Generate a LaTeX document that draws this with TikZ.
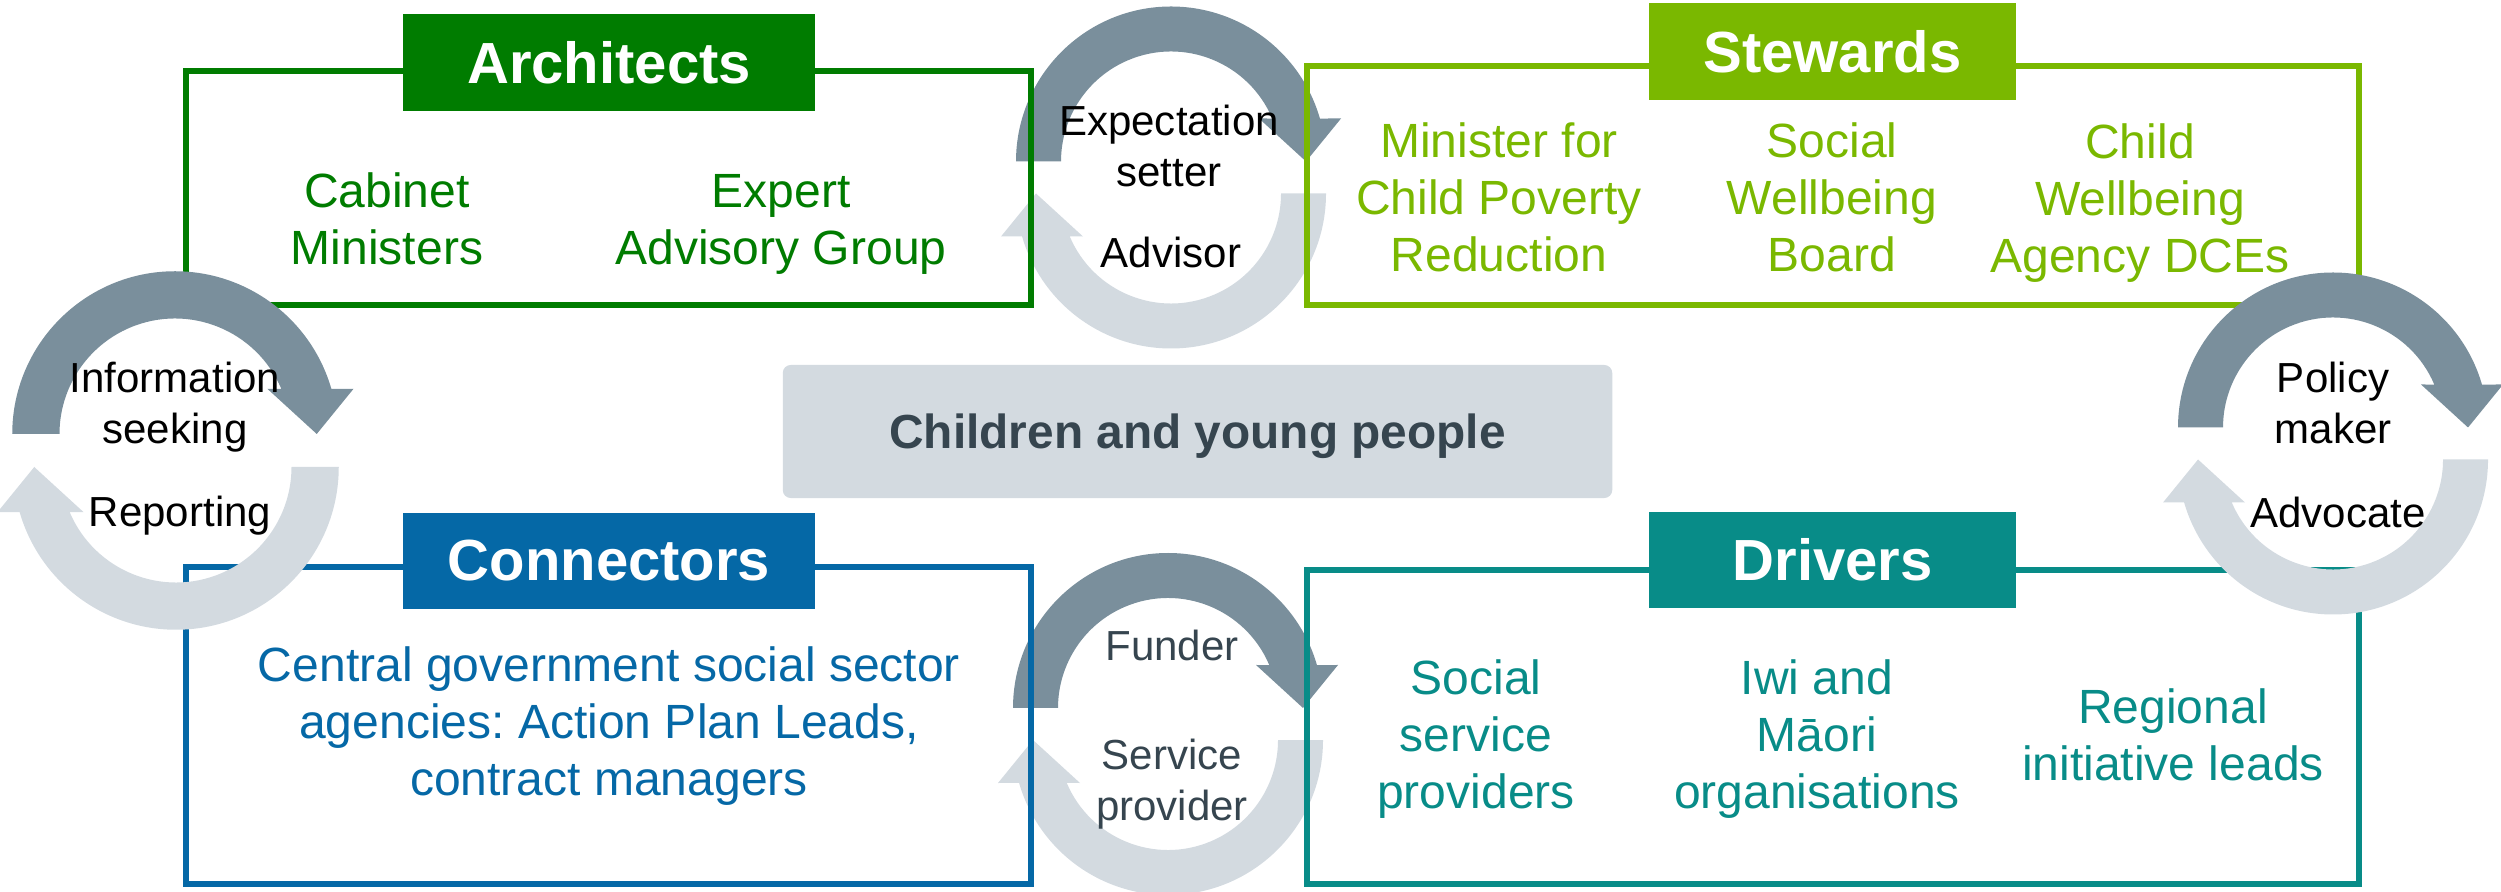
\documentclass[tikz,border=0pt]{standalone}
\usepackage{fontspec}
\setmainfont{Liberation Sans}
\frenchspacing

\definecolor{archgreen}{HTML}{007C00}
\definecolor{stewgreen}{HTML}{7AB800}
\definecolor{connblue}{HTML}{0568A6}
\definecolor{drvteal}{HTML}{088C88}
\definecolor{arrowdark}{HTML}{7A8F9C}
\definecolor{arrowlight}{HTML}{D3DAE0}
\definecolor{textdark}{HTML}{36454F}

\tikzset{
  rolebox/.style={draw=#1, line width=1.7pt, inner sep=0pt},
  roletitle/.style={fill=#1, text=white, inner sep=0pt, minimum height=0.96cm,
    font=\bfseries\fontsize{16.5}{19}\selectfont},
  roletext/.style={text=#1, align=center, font=\fontsize{13.66}{16.2}\selectfont},
  cyclelabel/.style={align=center, font=\fontsize{11.95}{14.5}\selectfont},
  halfarrow/.pic={
    \fill (-155,0) arc[start angle=180, end angle=16.1, radius=155]
      -- (170,43) -- (135,0) -- (88,43) -- (23:110)
      arc[start angle=23, end angle=180, radius=110] -- cycle;
  }
}

\begin{document}
\begin{tikzpicture}[x=0.01cm, y=0.01cm]
    % 固定画布大小
    \useasboundingbox (0,0) rectangle (2501,891);

    % 绘制中间两组循环箭头（在方框下面）
    \pic[color=arrowdark] at (1171,729.5) {halfarrow};
    \pic[color=arrowlight, rotate=180] at (1171,697.5) {halfarrow};
    \pic[color=arrowdark] at (1168,183) {halfarrow};
    \pic[color=arrowlight, rotate=180] at (1168,151) {halfarrow};

    % 绘制四个方框
    \node[rolebox=archgreen, minimum width=8.45cm, minimum height=2.34cm] (arch) at (608.5,703) {};
    \node[rolebox=stewgreen, minimum width=10.52cm, minimum height=2.39cm] (stew) at (1833,705.5) {};
    \node[rolebox=connblue, minimum width=8.45cm, minimum height=3.17cm] (conn) at (608.5,165.5) {};
    \node[rolebox=drvteal, minimum width=10.52cm, minimum height=3.14cm] (drv) at (1833,164) {};

    % 绘制方框标题
    \node[roletitle=archgreen, minimum width=4.12cm] (archtitle) at (609,828.5) {Architects};
    \node[roletitle=stewgreen, minimum width=3.67cm] (stewtitle) at (1832.5,839.5) {Stewards};
    \node[roletitle=connblue, minimum width=4.12cm] (conntitle) at (609,330) {Connectors};
    \node[roletitle=drvteal, minimum width=3.67cm] (drvtitle) at (1832.5,331) {Drivers};

    % 方框里的文字
    \node[roletext=archgreen] (cabinet) at (387,672.5) {Cabinet\\Ministers};
    \node[roletext=archgreen] (expert) at (781,667) {Expert\\Advisory Group};
    \node[roletext=stewgreen] (minister) at (1499,693.5) {Minister for\\Child Poverty\\Reduction};
    \node[roletext=stewgreen] (swb) at (1832,694) {Social\\Wellbeing\\Board};
    \node[roletext=stewgreen] (cwa) at (2140,688) {Child\\Wellbeing\\Agency DCEs};
    \node[roletext=connblue] (central) at (609,165) {Central government social sector\\agencies: Action Plan Leads,\\contract managers};
    \node[roletext=drvteal] (ssp) at (1476,152) {Social\\service\\providers};
    \node[roletext=drvteal] (iwi) at (1817,152) {Iwi and\\Māori\\organisations};
    \node[roletext=drvteal] (regional) at (2173,156.5) {Regional\\initiative leads};

    % 中间的框
    \node[fill=arrowlight, rounded corners=0.08cm, minimum width=8.29cm, minimum height=1.33cm, text depth=0pt,
      text=textdark, font=\bfseries\fontsize{13.6}{16}\selectfont] (kids) at (1197.5,459.5) {Children and young people};

    % 绘制两侧循环箭头（在方框上面）
    \pic[color=arrowdark, scale=1.05] at (175,457) {halfarrow};
    \pic[color=arrowlight, rotate=180, scale=1.05] at (176,424) {halfarrow};
    \pic[color=arrowdark] at (2333,463.5) {halfarrow};
    \pic[color=arrowlight, rotate=180] at (2333,431.5) {halfarrow};

    % 循环箭头的文字
    \node[cyclelabel] (expect) at (1169,745) {Expectation\\setter};
    \node[cyclelabel] (advisor) at (1171,639) {Advisor};
    \node[cyclelabel] (info) at (175,484) {Information\\seeking};
    \node[cyclelabel] (report) at (180,375) {Reporting};
    \node[cyclelabel] (policy) at (2333,488.5) {Policy\\maker};
    \node[cyclelabel] (advocate) at (2338,379) {Advocate};
    \node[cyclelabel, text=textdark] (funder) at (1172,246) {Funder};
    \node[cyclelabel, text=textdark] (provider) at (1172,107) {Service\\provider};

\end{tikzpicture}
\end{document}
